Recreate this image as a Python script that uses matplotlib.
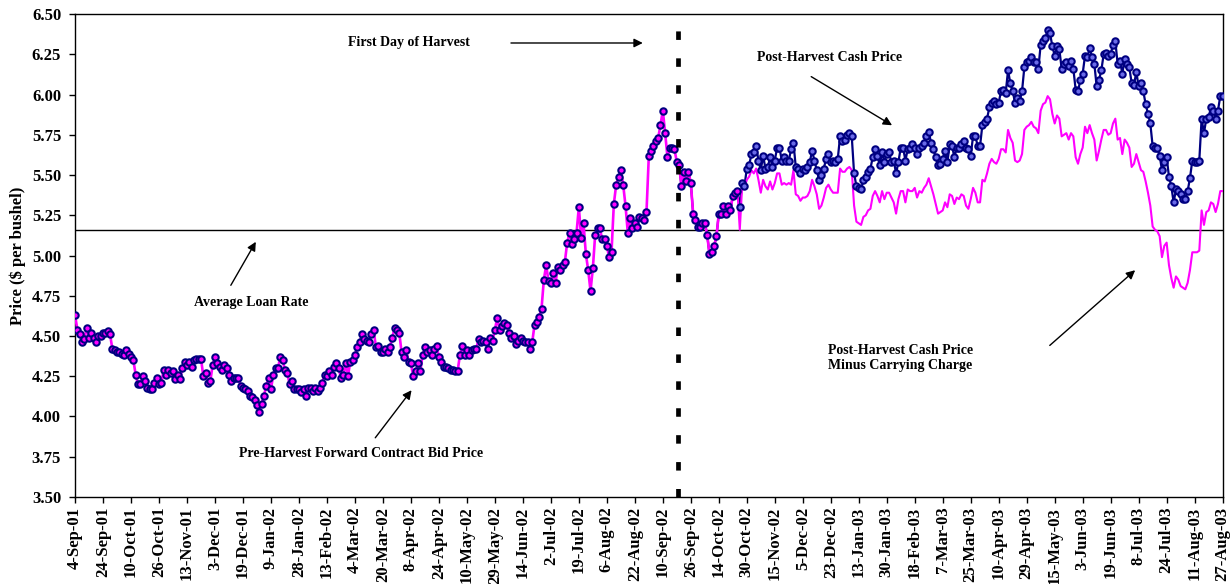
import numpy as np
import matplotlib
matplotlib.use("Agg")
import matplotlib.pyplot as plt

plt.rcParams['font.family'] = ['Liberation Serif', 'DejaVu Serif']
plt.rcParams['font.weight'] = 'bold'

# ---------------- data (trading-day index, 12 days between labels) ----------------
date_labels = ['4-Sep-01', '24-Sep-01', '10-Oct-01', '26-Oct-01', '13-Nov-01', '3-Dec-01',
               '19-Dec-01', '9-Jan-02', '28-Jan-02', '13-Feb-02', '4-Mar-02', '20-Mar-02',
               '8-Apr-02', '24-Apr-02', '10-May-02', '29-May-02', '14-Jun-02', '2-Jul-02',
               '19-Jul-02', '6-Aug-02', '22-Aug-02', '10-Sep-02', '26-Sep-02', '14-Oct-02',
               '30-Oct-02', '15-Nov-02', '5-Dec-02', '23-Dec-02', '13-Jan-03', '30-Jan-03',
               '18-Feb-03', '7-Mar-03', '25-Mar-03', '10-Apr-03', '29-Apr-03', '15-May-03',
               '3-Jun-03', '19-Jun-03', '8-Jul-03', '24-Jul-03', '11-Aug-03', '27-Aug-03']

# pre-harvest forward contract bid price (days 0-257)
pre_harvest_bid = [
    4.63, 4.54, 4.51, 4.46, 4.48, 4.55, 4.49, 4.52, 4.49, 4.46, 4.50, 4.50,
    4.52, 4.52, 4.53, 4.51, 4.42, 4.41, 4.40, 4.40, 4.39, 4.38, 4.41, 4.39,
    4.37, 4.35, 4.26, 4.20, 4.20, 4.25, 4.22, 4.18, 4.17, 4.17, 4.21, 4.24,
    4.20, 4.21, 4.29, 4.26, 4.29, 4.27, 4.28, 4.23, 4.26, 4.23, 4.30, 4.34,
    4.32, 4.34, 4.31, 4.35, 4.36, 4.36, 4.36, 4.25, 4.27, 4.21, 4.22, 4.32,
    4.37, 4.33, 4.31, 4.29, 4.32, 4.30, 4.26, 4.22, 4.24, 4.24, 4.24, 4.19,
    4.18, 4.17, 4.16, 4.13, 4.12, 4.10, 4.07, 4.03, 4.08, 4.13, 4.19, 4.24,
    4.17, 4.26, 4.30, 4.30, 4.37, 4.35, 4.29, 4.27, 4.20, 4.22, 4.17, 4.17,
    4.17, 4.15, 4.17, 4.13, 4.18, 4.18, 4.16, 4.18, 4.16, 4.18, 4.21, 4.26,
    4.25, 4.28, 4.26, 4.31, 4.33, 4.30, 4.24, 4.26, 4.33, 4.25, 4.34, 4.35,
    4.38, 4.43, 4.46, 4.51, 4.48, 4.47, 4.46, 4.51, 4.54, 4.43, 4.44, 4.40,
    4.40, 4.42, 4.40, 4.43, 4.49, 4.55, 4.54, 4.52, 4.40, 4.37, 4.41, 4.34,
    4.33, 4.25, 4.28, 4.33, 4.28, 4.38, 4.43, 4.40, 4.41, 4.38, 4.42, 4.44,
    4.37, 4.34, 4.31, 4.31, 4.30, 4.29, 4.29, 4.28, 4.28, 4.38, 4.44, 4.38,
    4.41, 4.38, 4.41, 4.42, 4.42, 4.48, 4.46, 4.47, 4.46, 4.42, 4.49, 4.47,
    4.54, 4.61, 4.54, 4.56, 4.58, 4.57, 4.52, 4.49, 4.50, 4.45, 4.47, 4.49,
    4.47, 4.46, 4.46, 4.42, 4.46, 4.57, 4.59, 4.62, 4.67, 4.85, 4.94, 4.84,
    4.83, 4.89, 4.83, 4.93, 4.91, 4.94, 4.96, 5.08, 5.14, 5.07, 5.10, 5.14,
    5.30, 5.11, 5.20, 5.01, 4.91, 4.78, 4.92, 5.13, 5.17, 5.17, 5.10, 5.10,
    5.06, 4.99, 5.02, 5.32, 5.44, 5.49, 5.53, 5.44, 5.31, 5.14, 5.23, 5.17,
    5.20, 5.18, 5.24, 5.23, 5.22, 5.27, 5.62, 5.65, 5.68, 5.71, 5.73, 5.81,
    5.90, 5.76, 5.61, 5.67, 5.67, 5.66]

# post-harvest cash price (days 258-492)
post_harvest_cash = [
    5.58, 5.56, 5.43, 5.52, 5.46, 5.52, 5.45, 5.26, 5.22, 5.18, 5.18, 5.20,
    5.20, 5.13, 5.01, 5.02, 5.06, 5.12, 5.26, 5.26, 5.31, 5.26, 5.31, 5.28,
    5.37, 5.39, 5.40, 5.30, 5.45, 5.43, 5.54, 5.56, 5.63, 5.64, 5.68, 5.59,
    5.53, 5.62, 5.54, 5.55, 5.61, 5.55, 5.59, 5.67, 5.67, 5.59, 5.61, 5.59,
    5.59, 5.66, 5.70, 5.55, 5.54, 5.51, 5.54, 5.53, 5.55, 5.58, 5.65, 5.59,
    5.53, 5.47, 5.50, 5.54, 5.60, 5.63, 5.58, 5.59, 5.58, 5.60, 5.74, 5.71,
    5.72, 5.75, 5.76, 5.74, 5.51, 5.43, 5.42, 5.41, 5.47, 5.49, 5.52, 5.54,
    5.61, 5.66, 5.62, 5.56, 5.64, 5.58, 5.63, 5.64, 5.58, 5.59, 5.51, 5.58,
    5.67, 5.67, 5.59, 5.66, 5.67, 5.69, 5.67, 5.63, 5.67, 5.68, 5.70, 5.74,
    5.77, 5.70, 5.66, 5.61, 5.56, 5.57, 5.60, 5.65, 5.58, 5.69, 5.68, 5.61,
    5.67, 5.67, 5.69, 5.71, 5.67, 5.66, 5.62, 5.74, 5.74, 5.68, 5.68, 5.81,
    5.83, 5.85, 5.92, 5.95, 5.96, 5.94, 5.95, 6.02, 6.03, 6.01, 6.15, 6.07,
    6.02, 5.95, 5.98, 5.96, 6.02, 6.17, 6.20, 6.21, 6.23, 6.20, 6.20, 6.16,
    6.31, 6.33, 6.35, 6.40, 6.38, 6.30, 6.24, 6.30, 6.28, 6.16, 6.19, 6.20,
    6.18, 6.21, 6.16, 6.03, 6.02, 6.09, 6.13, 6.24, 6.23, 6.29, 6.23, 6.19,
    6.05, 6.09, 6.15, 6.25, 6.26, 6.24, 6.25, 6.31, 6.33, 6.19, 6.21, 6.13,
    6.22, 6.19, 6.17, 6.07, 6.06, 6.14, 6.05, 6.07, 6.02, 5.94, 5.88, 5.82,
    5.68, 5.67, 5.67, 5.62, 5.53, 5.58, 5.61, 5.49, 5.43, 5.33, 5.41, 5.40,
    5.38, 5.35, 5.35, 5.40, 5.48, 5.59, 5.58, 5.58, 5.59, 5.85, 5.76, 5.85,
    5.86, 5.92, 5.90, 5.85, 5.90, 5.99, 5.99]

# cash price minus carrying charge, once the charge starts (days 285-492)
cash_minus_carry = [
    5.16, 5.43, 5.42, 5.47, 5.49, 5.53, 5.51, 5.54, 5.47, 5.39, 5.47, 5.43,
    5.41, 5.46, 5.41, 5.45, 5.51, 5.51, 5.44, 5.45, 5.44, 5.45, 5.44, 5.53,
    5.38, 5.37, 5.34, 5.36, 5.36, 5.37, 5.40, 5.47, 5.43, 5.38, 5.29, 5.31,
    5.36, 5.42, 5.44, 5.41, 5.39, 5.39, 5.39, 5.54, 5.52, 5.52, 5.54, 5.55,
    5.53, 5.31, 5.21, 5.20, 5.19, 5.24, 5.25, 5.28, 5.29, 5.37, 5.40, 5.37,
    5.33, 5.40, 5.35, 5.39, 5.39, 5.36, 5.33, 5.26, 5.35, 5.40, 5.40, 5.33,
    5.41, 5.40, 5.40, 5.42, 5.36, 5.40, 5.39, 5.42, 5.44, 5.48, 5.43, 5.38,
    5.32, 5.26, 5.27, 5.28, 5.33, 5.30, 5.38, 5.37, 5.32, 5.36, 5.35, 5.38,
    5.37, 5.31, 5.29, 5.35, 5.42, 5.39, 5.33, 5.33, 5.47, 5.46, 5.51, 5.57,
    5.60, 5.58, 5.57, 5.60, 5.66, 5.66, 5.64, 5.78, 5.73, 5.70, 5.59, 5.58,
    5.59, 5.63, 5.78, 5.80, 5.81, 5.83, 5.80, 5.79, 5.76, 5.90, 5.94, 5.95,
    5.99, 5.97, 5.88, 5.82, 5.87, 5.85, 5.74, 5.75, 5.76, 5.72, 5.76, 5.74,
    5.61, 5.57, 5.63, 5.67, 5.80, 5.76, 5.81, 5.76, 5.72, 5.59, 5.65, 5.72,
    5.78, 5.78, 5.75, 5.76, 5.82, 5.85, 5.72, 5.73, 5.63, 5.72, 5.70, 5.67,
    5.55, 5.57, 5.63, 5.58, 5.53, 5.52, 5.46, 5.39, 5.31, 5.18, 5.16, 5.15,
    5.12, 4.99, 5.06, 5.08, 4.94, 4.86, 4.80, 4.87, 4.85, 4.81, 4.80, 4.79,
    4.83, 4.91, 5.02, 5.02, 5.02, 5.03, 5.28, 5.19, 5.27, 5.28, 5.33, 5.32,
    5.27, 5.32, 5.40, 5.40]

avg_loan_rate = 5.16
harvest_day = 258
carry_start = 285

# ---------------- plotting ----------------
NAVY = '#000080'
MAGENTA = '#ff00ff'

fig = plt.figure(figsize=(12.3, 5.84), dpi=100)
ax = fig.add_axes([0.061, 0.149, 0.933, 0.827])

x_pre = np.arange(len(pre_harvest_bid))
x_post = np.arange(harvest_day, harvest_day + len(post_harvest_cash))
split = carry_start - harvest_day

# magenta line: pre-harvest bid, then cash price (no charge yet), then cash minus carry
magenta_y = pre_harvest_bid + post_harvest_cash[:split] + cash_minus_carry
magenta_x = np.arange(len(magenta_y))

ax.plot(x_post, post_harvest_cash, color=NAVY, lw=1.6, zorder=2)
ax.plot(magenta_x[:carry_start], magenta_y[:carry_start], color=MAGENTA, lw=1.9, zorder=3)
ax.plot(magenta_x[carry_start - 1:], magenta_y[carry_start - 1:], color=MAGENTA, lw=1.5,
        zorder=3)

# markers
mk = dict(ls='none', marker='o', ms=4.6, mew=1.5, mec=NAVY, zorder=4)
ax.plot(x_pre, pre_harvest_bid, mfc=MAGENTA, **mk)
ax.plot(x_post[:split], post_harvest_cash[:split], mfc=MAGENTA, **mk)
ax.plot(x_post[split:], post_harvest_cash[split:], mfc='#6a6ae8', **mk)

ax.axhline(avg_loan_rate, color='black', lw=1.0, zorder=1)
ax.axvline(harvest_day + 0.5, color='black', lw=3.4, ls=(0, (1.8, 3.9)), zorder=5)

ax.set_xlim(0, len(magenta_y) - 1)
ax.set_ylim(3.5, 6.5)
yt = np.arange(3.5, 6.51, 0.25)
ax.set_yticks(yt)
ax.set_yticklabels(['%.2f' % v for v in yt], fontsize=12, fontweight='bold')
ax.set_xticks(np.arange(0, 12 * len(date_labels), 12))
ax.set_xticklabels(date_labels, rotation=90, fontsize=12, fontweight='bold')
ax.tick_params(axis='both', direction='out', length=4, width=1, pad=3)
ax.tick_params(axis='y', pad=6)
ax.set_ylabel('Price ($ per bushel)', fontsize=12, fontweight='bold', labelpad=4)
for s in ax.spines.values():
    s.set_linewidth(1.0)

arrow = dict(arrowstyle='-|>', color='black', lw=1.0, mutation_scale=13)
ax.annotate('', xy=(244.6, 6.32), xytext=(185.7, 6.32), arrowprops=arrow)
ax.text(143, 6.32, 'First Day of Harvest', ha='center', va='center', fontsize=10)

ax.annotate('', xy=(351.3, 5.80), xytext=(314.6, 6.12), arrowprops=arrow)
ax.text(323.5, 6.227, 'Post-Harvest Cash Price', ha='center', va='center', fontsize=10)

ax.annotate('', xy=(78.1, 5.10), xytext=(66.2, 4.80), arrowprops=arrow)
ax.text(75.5, 4.705, 'Average Loan Rate', ha='center', va='center', fontsize=10)

ax.annotate('', xy=(145, 4.177), xytext=(128, 3.854), arrowprops=arrow)
ax.text(122.5, 3.773, 'Pre-Harvest Forward Contract Bid Price', ha='center',
        va='center', fontsize=10)

ax.annotate('', xy=(455.4, 4.92), xytext=(417, 4.43), arrowprops=arrow)
ax.text(353.8, 4.363, 'Post-Harvest Cash Price\nMinus Carrying Charge', ha='center',
        va='center', fontsize=10, linespacing=1.25)

fig.savefig('out.png', dpi=100)
